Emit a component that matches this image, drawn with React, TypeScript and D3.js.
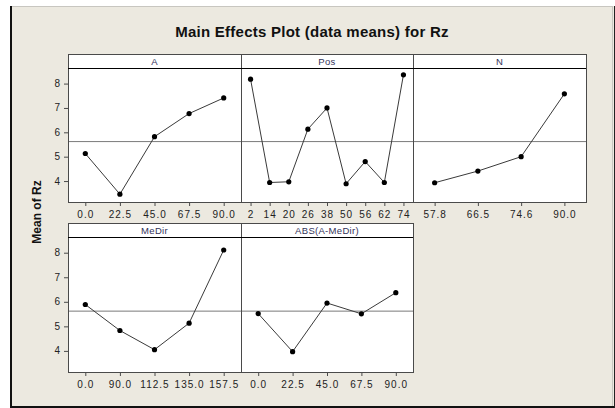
import React from "react";
import * as d3 from "d3";

// Factor levels and mean response for each factor
const levelsA = ["0.0", "22.5", "45.0", "67.5", "90.0"];
const meansA = [5.13, 3.46, 5.82, 6.77, 7.41];

const levelsPos = ["2", "14", "20", "26", "38", "50", "56", "62", "74"];
const meansPos = [8.18, 3.94, 3.97, 6.13, 7.0, 3.89, 4.8, 3.94, 8.36];

const levelsN = ["57.8", "66.5", "74.6", "90.0"];
const meansN = [3.93, 4.41, 5.0, 7.58];

const levelsMeDir = ["0.0", "90.0", "112.5", "135.0", "157.5"];
const meansMeDir = [5.89, 4.83, 4.05, 5.13, 8.11];

const levelsAbs = ["0.0", "22.5", "45.0", "67.5", "90.0"];
const meansAbs = [5.52, 3.97, 5.95, 5.51, 6.37];

const yTicks = [4, 5, 6, 7, 8];
const grandMean = 5.62;

const W = 615;
const H = 408;
const FONT = "Arial, 'Liberation Sans', Helvetica, sans-serif";

type Panel = {
  name: string;
  levels: string[];
  means: number[];
  x0: number;
  x1: number;
  top: number; // header top
  head: number; // header bottom / plot top
  bottom: number; // plot bottom
};

const rowTop = { top: 54, head: 68, bottom: 202 };
const rowBot = { top: 223, head: 237, bottom: 372 };

const panels: Panel[] = [
  { name: "A", levels: levelsA, means: meansA, x0: 68, x1: 241, ...rowTop },
  { name: "Pos", levels: levelsPos, means: meansPos, x0: 241, x1: 413, ...rowTop },
  { name: "N", levels: levelsN, means: meansN, x0: 413, x1: 586, ...rowTop },
  { name: "MeDir", levels: levelsMeDir, means: meansMeDir, x0: 68, x1: 241, ...rowBot },
  { name: "ABS(A-MeDir)", levels: levelsAbs, means: meansAbs, x0: 241, x1: 413, ...rowBot },
];

const yDomain: [number, number] = [3.14, 8.64];

function PanelView({ p, showY }: { p: Panel; showY: boolean }) {
  const x = d3.scalePoint<string>().domain(p.levels).range([p.x0, p.x1]).padding(0.5);
  const y = d3.scaleLinear().domain(yDomain).range([p.bottom, p.head]);
  const pts: [number, number][] = p.levels.map((l, i) => [x(l) as number, y(p.means[i])]);
  const line = d3.line()(pts) || "";
  const axisCol = "#4a4a4a";
  return (
    <g>
      {/* header strip and plot area */}
      <rect x={p.x0} y={p.top} width={p.x1 - p.x0} height={p.head - p.top} fill="#fff" />
      <rect x={p.x0} y={p.head} width={p.x1 - p.x0} height={p.bottom - p.head} fill="#fff" />
      <text
        x={(p.x0 + p.x1) / 2}
        y={(p.top + p.head) / 2 + 3.5}
        textAnchor="middle"
        fontSize={9.5}
        letterSpacing={0.3}
        fontFamily={FONT}
        fill="#33335a"
      >
        {p.name}
      </text>
      {/* reference line at the overall mean */}
      <line
        x1={p.x0}
        x2={p.x1}
        y1={y(grandMean)}
        y2={y(grandMean)}
        stroke="#7a7a7a"
        strokeWidth={1}
      />
      <path d={line} fill="none" stroke="#3a3a3a" strokeWidth={1} />
      {pts.map((d, i) => (
        <circle key={i} cx={d[0]} cy={d[1]} r={2.6} fill="#000" />
      ))}
      {/* frames */}
      <rect
        x={p.x0 + 0.5}
        y={p.top + 0.5}
        width={p.x1 - p.x0}
        height={p.bottom - p.top}
        fill="none"
        stroke={axisCol}
        strokeWidth={1}
      />
      <line x1={p.x0} x2={p.x1} y1={p.head + 0.5} y2={p.head + 0.5} stroke="#000" strokeWidth={1.2} />
      {/* x axis ticks */}
      {p.levels.map((l) => (
        <g key={l}>
          <line
            x1={(x(l) as number) + 0.5}
            x2={(x(l) as number) + 0.5}
            y1={p.bottom}
            y2={p.bottom + 4}
            stroke={axisCol}
          />
          <text
            x={(x(l) as number) + 0.5}
            y={p.bottom + 15.5}
            textAnchor="middle"
            fontSize={10}
            letterSpacing={1}
            fontFamily={FONT}
            fill="#222"
          >
            {l}
          </text>
        </g>
      ))}
      {/* y axis ticks */}
      {showY &&
        yTicks.map((t) => (
          <g key={t}>
            <line x1={p.x0 - 4} x2={p.x0} y1={y(t) + 0.5} y2={y(t) + 0.5} stroke={axisCol} />
            <text
              x={p.x0 - 8}
              y={y(t) + 3.5}
              textAnchor="end"
              fontSize={10}
              fontFamily={FONT}
              fill="#222"
            >
              {t}
            </text>
          </g>
        ))}
    </g>
  );
}

export default function App() {
  return (
    <svg
      width={W}
      height={H}
      style={{ position: "absolute", left: 0, top: 0, display: "block" }}
    >
      <rect x={0} y={0} width={W} height={H} fill="#fff" />
      <rect x={11} y={6} width={603} height={400} fill="#ECE9E0" />
      <line x1={11} x2={613} y1={6.5} y2={6.5} stroke="#c8c6c0" />
      <line x1={612.5} x2={612.5} y1={6} y2={406} stroke="#c8c6c0" />
      <line x1={11} x2={11} y1={6} y2={408} stroke="#111" strokeWidth={2} />
      <line x1={10} x2={615} y1={407} y2={407} stroke="#111" strokeWidth={2} />
      <line x1={614.5} x2={614.5} y1={6} y2={408} stroke="#222" strokeWidth={1} />
      <text
        x={312}
        y={37}
        textAnchor="middle"
        fontSize={15}
        letterSpacing={0.25}
        fontWeight="bold"
        fontFamily={FONT}
        fill="#111"
      >
        Main Effects Plot (data means) for Rz
      </text>
      <text
        transform="translate(41,212) rotate(-90)"
        textAnchor="middle"
        fontSize={12}
        fontWeight="bold"
        fontFamily={FONT}
        fill="#111"
      >
        Mean of Rz
      </text>
      {panels.map((p) => (
        <PanelView key={p.name} p={p} showY={p.x0 === 68} />
      ))}
    </svg>
  );
}
